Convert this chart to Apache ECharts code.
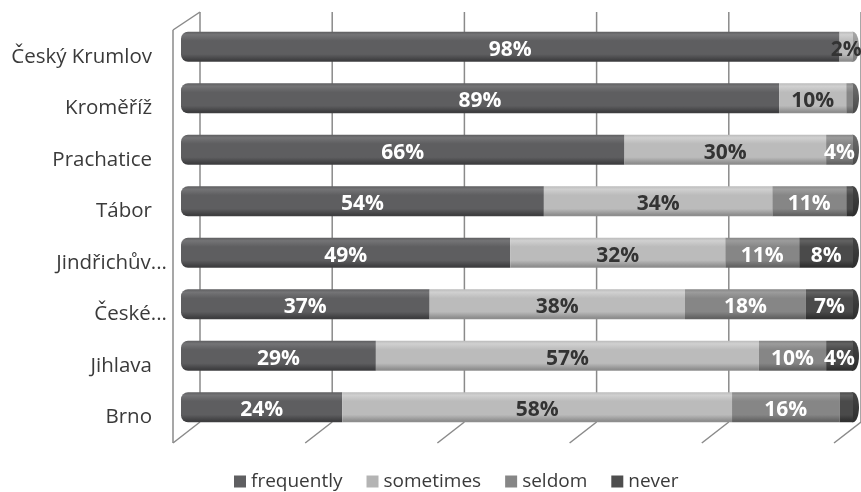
<!DOCTYPE html>
<html>
<head>
<meta charset="utf-8">
<title>Frequency by town</title>
<script src="https://cdn.jsdelivr.net/npm/echarts@6/dist/echarts.min.js"></script>
<style>
  html, body { margin: 0; padding: 0; background: #ffffff; }
  #chart { width: 861px; height: 492px; }
</style>
</head>
<body>
<div id="chart"></div>
<script>
// Towns, top to bottom
const cities = ['Český Krumlov', 'Kroměříž', 'Prachatice', 'Tábor', 'Jindřichův...', 'České...', 'Jihlava', 'Brno'];

// Share of answers per town (%)
const frequently = [98, 89, 66, 54, 49, 37, 29, 24];
const sometimes  = [2, 10, 30, 34, 32, 38, 57, 58];
const seldom     = [0, 1, 4, 11, 11, 18, 10, 16];
const never      = [0, 0, 0, 1, 8, 7, 4, 2];

// Value-axis gridline positions (%)
const wallTicks = [0, 20, 40, 60, 80, 100];

// Thin slivers that carry no value label
const unlabeled = { seldom: [1], never: [3, 7] };

const FONT = 'Open Sans';
const DEPTH_X = -27, DEPTH_TOP = 18, DEPTH_BOTTOM = 21;

function cylinder(light, base, dark) {
  return new echarts.graphic.LinearGradient(0, 0, 0, 1, [
    { offset: 0, color: base },
    { offset: 0.1, color: light },
    { offset: 0.3, color: base },
    { offset: 0.75, color: base },
    { offset: 0.95, color: dark },
    { offset: 1, color: dark }
  ]);
}

const seriesDefs = [
  { name: 'frequently', values: frequently, legend: '#5f5f61', grad: ['#747476', '#5e5e60', '#3e3e40'], text: '#ffffff' },
  { name: 'sometimes',  values: sometimes,  legend: '#b4b4b4', grad: ['#d0d0d0', '#bbbbbb', '#8e8e8e'], text: '#333333' },
  { name: 'seldom',     values: seldom,     legend: '#868686', grad: ['#9c9c9c', '#868686', '#636363'], text: '#ffffff' },
  { name: 'never',      values: never,      legend: '#4e4e4e', grad: ['#626262', '#4a4a4a', '#303030'], text: '#ffffff' }
];

const totals = cities.map((_, i) => seriesDefs.reduce((s, d) => s + d.values[i], 0));
const lastSeries = cities.map((_, i) => {
  let k = 0;
  seriesDefs.forEach((d, j) => { if (d.values[i] > 0) k = j; });
  return k;
});
const capColors = [['#555557', '#3a3a3c'], ['#a8a8a8', '#7c7c7c'], ['#6e6e6e', '#4a4a4a'], ['#444444', '#2e2e2e']];

const barSeries = seriesDefs.map((d, j) => ({
  name: d.name,
  type: 'bar',
  stack: 'all',
  xAxisIndex: 0,
  yAxisIndex: 0,
  barWidth: 30,
  z: 3,
  itemStyle: {
    color: cylinder(d.grad[0], d.grad[1], d.grad[2]),
    borderRadius: j === 0 ? [7, 0, 0, 7] : 0
  },
  label: {
    show: true,
    position: 'inside',
    offset: [0, 3],
    formatter: p => p.value + '%',
    color: d.text,
    fontFamily: FONT,
    fontWeight: 'bold',
    fontSize: 21
  },
  data: d.values.map((v, i) => {
    const hide = v === 0 || (unlabeled[d.name] || []).includes(i);
    return hide ? { value: v, label: { show: false } } : v;
  })
}));

// Rounded end faces at the right end of each cylinder
const capSeries = {
  type: 'custom',
  xAxisIndex: 0,
  yAxisIndex: 0,
  z: 2,
  silent: true,
  data: totals.map((t, i) => [t, i, lastSeries[i]]),
  renderItem: (params, api) => {
    const p = api.coord([api.value(0), api.value(1)]);
    const c = capColors[api.value(2)];
    return {
      type: 'ellipse',
      shape: { cx: p[0], cy: p[1], rx: 6, ry: 15 },
      style: {
        fill: new echarts.graphic.LinearGradient(0, 0, 0, 1, [
          { offset: 0, color: c[0] }, { offset: 1, color: c[1] }
        ])
      }
    };
  }
};

// Back wall gridlines, floor ticks and side wall of the plot box
const wallSeries = {
  type: 'custom',
  xAxisIndex: 1,
  yAxisIndex: 1,
  z: 0,
  silent: true,
  clip: false,
  data: wallTicks.map(v => [v]),
  renderItem: (params, api) => {
    const v = api.value(0);
    const top = api.coord([v, 1]);
    const bot = api.coord([v, 0]);
    const style = { stroke: '#8a8a8a', lineWidth: 1.5, fill: null };
    const children = [
      { type: 'line', shape: { x1: top[0], y1: top[1], x2: bot[0], y2: bot[1] }, style },
      { type: 'line', shape: { x1: bot[0], y1: bot[1], x2: bot[0] + DEPTH_X, y2: bot[1] + DEPTH_BOTTOM }, style }
    ];
    if (v === wallTicks[0]) {
      children.push(
        { type: 'line', shape: { x1: top[0], y1: top[1], x2: top[0] + DEPTH_X, y2: top[1] + DEPTH_TOP }, style },
        { type: 'line', shape: { x1: top[0] + DEPTH_X, y1: top[1] + DEPTH_TOP, x2: bot[0] + DEPTH_X, y2: bot[1] + DEPTH_BOTTOM }, style }
      );
    }
    return { type: 'group', children };
  }
};

const labelText = { fontFamily: FONT, fontSize: 20.5, lineHeight: 20, color: '#3a3a3a' };

const chart = echarts.init(document.getElementById('chart'), null, { renderer: 'canvas' });
chart.setOption({
  animation: false,
  backgroundColor: '#ffffff',
  textStyle: { fontFamily: FONT },
  grid: [
    { left: 181, right: 8, top: 21, bottom: 59 },
    { left: 200, right: -9, top: 12, bottom: 70 }
  ],
  xAxis: [
    { type: 'value', gridIndex: 0, min: 0, max: 100, interval: 20, show: false },
    { type: 'value', gridIndex: 1, min: 0, max: 100, interval: 20, show: false }
  ],
  yAxis: [
    {
      type: 'category',
      gridIndex: 0,
      inverse: true,
      data: cities,
      axisLine: { show: false },
      axisTick: { show: false },
      splitLine: { show: false },
      axisLabel: {
        margin: 14,
        verticalAlign: 'top',
        ...labelText,
        // full names keep a trailing gap; shortened names let the ellipsis fill it
        formatter: name => name.endsWith('...')
          ? '{t|' + name + '}'
          : '{t|' + name + '}{s| }',
        rich: {
          t: { ...labelText },
          s: { ...labelText, width: 15 }
        }
      }
    },
    { type: 'value', gridIndex: 1, min: 0, max: 1, show: false }
  ],
  legend: {
    left: 229,
    top: 467,
    icon: 'rect',
    itemWidth: 12,
    itemHeight: 12,
    itemGap: 24,
    itemTextGap: 5,
    textStyle: { fontFamily: FONT, fontSize: 19, color: '#3a3a3a' },
    data: seriesDefs.map(d => ({ name: d.name, itemStyle: { color: d.legend } }))
  },
  series: [wallSeries, ...barSeries, capSeries]
});
</script>
</body>
</html>
